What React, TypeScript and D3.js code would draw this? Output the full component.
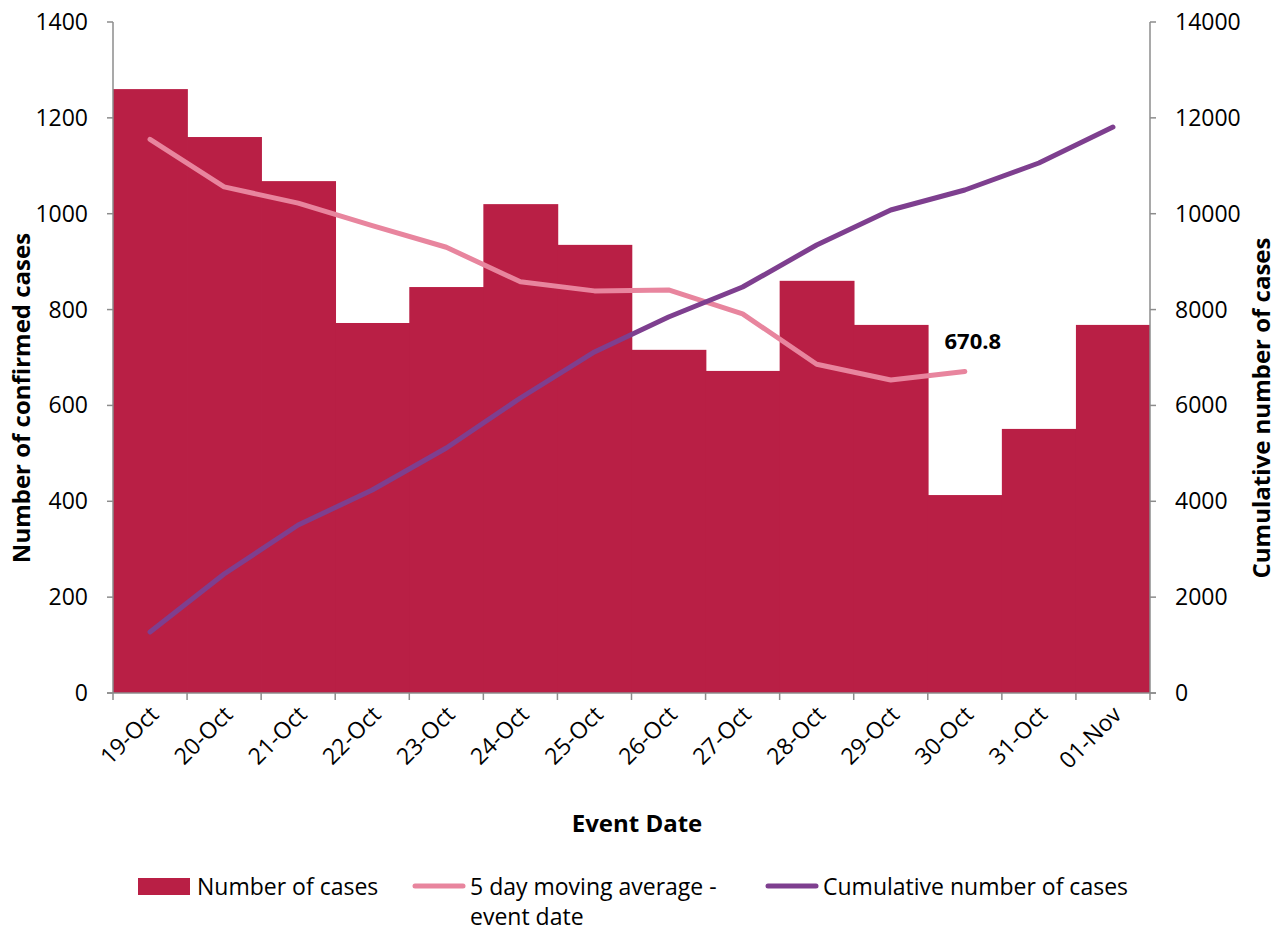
import * as d3 from "d3"

const dates = ["19-Oct", "20-Oct", "21-Oct", "22-Oct", "23-Oct", "24-Oct", "25-Oct", "26-Oct", "27-Oct", "28-Oct", "29-Oct", "30-Oct", "31-Oct", "01-Nov"]
const cases = [1260, 1160, 1068, 772, 847, 1020, 935, 716, 672, 860, 768, 413, 551, 768]
const movingAvg = [1155, 1056, 1022, 975, 930, 858, 839, 841, 791, 686, 653, 670.8]
const cumulative = [1273, 2483, 3505, 4235, 5112, 6155, 7115, 7845, 8471, 9347, 10077, 10495, 11058, 11809]
const leftTicks = [0, 200, 400, 600, 800, 1000, 1200, 1400]
const rightTicks = [0, 2000, 4000, 6000, 8000, 10000, 12000, 14000]

const BAR = "#B91F45"
const PINK = "#E8859E"
const PURPLE = "#7E3F8F"
const AXIS = "#8c8c8c"
const FONT = "'Open Sans', 'Liberation Sans', sans-serif"

export default function App() {
  const width = 1282
  const height = 933
  const left = 113
  const right = 1150
  const top = 22
  const bottom = 693

  const x = d3.scaleBand<string>().domain(dates).range([left, right]).padding(0)
  const bw = x.bandwidth()
  const yL = d3.scaleLinear().domain([0, 1400]).range([bottom, top])
  const yR = d3.scaleLinear().domain([0, 14000]).range([bottom, top])
  const cx = (d: string) => (x(d) ?? 0) + bw / 2

  const avgLine = d3
    .line<number>()
    .x((_, i) => cx(dates[i]))
    .y((d) => yL(d))
  const cumLine = d3
    .line<number>()
    .x((_, i) => cx(dates[i]))
    .y((d) => yR(d))

  const lastAvg = movingAvg.length - 1

  return (
    <svg
      width={width}
      height={height}
      style={{ position: "absolute", left: 0, top: 0, background: "#fff" }}
      fontFamily={FONT}
    >
      {/* bars, slightly widened so no seams show between them */}
      {dates.map((d, i) => (
        <rect
          key={d}
          x={x(d)}
          y={yL(cases[i])}
          width={bw + (i < dates.length - 1 ? 0.8 : 0)}
          height={bottom - yL(cases[i])}
          fill={BAR}
        />
      ))}

      {/* lines */}
      <path d={avgLine(movingAvg) ?? ""} fill="none" stroke={PINK} strokeWidth={5} strokeLinecap="round" strokeLinejoin="round" />
      <path d={cumLine(cumulative) ?? ""} fill="none" stroke={PURPLE} strokeWidth={5} strokeLinecap="round" strokeLinejoin="round" />

      <text x={cx(dates[lastAvg]) + 8} y={349} textAnchor="middle" fontWeight="bold" fontSize={22} fill="#000">
        {movingAvg[lastAvg]}
      </text>

      {/* left axis */}
      <line x1={left} x2={left} y1={top} y2={bottom} stroke={AXIS} strokeWidth={1.5} />
      {leftTicks.map((t) => (
        <g key={t}>
          <line x1={left - 6} x2={left} y1={yL(t)} y2={yL(t)} stroke={AXIS} strokeWidth={1.5} />
          <text x={88} y={yL(t)} dy="0.35em" textAnchor="end" fontSize={23} fill="#000">
            {t}
          </text>
        </g>
      ))}

      {/* right axis */}
      <line x1={right} x2={right} y1={top} y2={bottom} stroke={AXIS} strokeWidth={1.5} />
      {rightTicks.map((t) => (
        <g key={t}>
          <line x1={right} x2={right + 6} y1={yR(t)} y2={yR(t)} stroke={AXIS} strokeWidth={1.5} />
          <text x={1175} y={yR(t)} dy="0.35em" textAnchor="start" fontSize={23} fill="#000">
            {t}
          </text>
        </g>
      ))}

      {/* bottom axis */}
      <line x1={left - 6} x2={right + 6} y1={bottom} y2={bottom} stroke={AXIS} strokeWidth={1.5} />
      {[...dates.map((d) => x(d) ?? 0), right].map((v, i) => (
        <line key={i} x1={v} x2={v} y1={bottom} y2={bottom + 7} stroke={AXIS} strokeWidth={1.5} />
      ))}
      {dates.map((d) => (
        <text
          key={d}
          transform={`translate(${cx(d) + 10},${716}) rotate(-45)`}
          textAnchor="end"
          fontSize={23}
          fill="#000"
        >
          {d}
        </text>
      ))}

      {/* axis titles */}
      <text x={637} y={832} textAnchor="middle" fontWeight="bold" fontSize={24} fill="#000">
        Event Date
      </text>
      <text transform={`translate(30,${398}) rotate(-90)`} textAnchor="middle" fontWeight="bold" fontSize={24} fill="#000">
        Number of confirmed cases
      </text>
      <text transform={`translate(1270,${408}) rotate(-90)`} textAnchor="middle" fontWeight="bold" fontSize={24} fill="#000">
        Cumulative number of cases
      </text>

      {/* legend */}
      <g fontSize={23} fill="#000">
        <rect x={138} y={878} width={52} height={17} fill={BAR} />
        <text x={197} y={895}>Number of cases</text>
        <line x1={415} x2={463} y1={886} y2={886} stroke={PINK} strokeWidth={5} strokeLinecap="round" />
        <text x={470} y={895}>5 day moving average -</text>
        <text x={470} y={925}>event date</text>
        <line x1={768} x2={816} y1={886} y2={886} stroke={PURPLE} strokeWidth={5} strokeLinecap="round" />
        <text x={823} y={895}>Cumulative number of cases</text>
      </g>
    </svg>
  )
}
